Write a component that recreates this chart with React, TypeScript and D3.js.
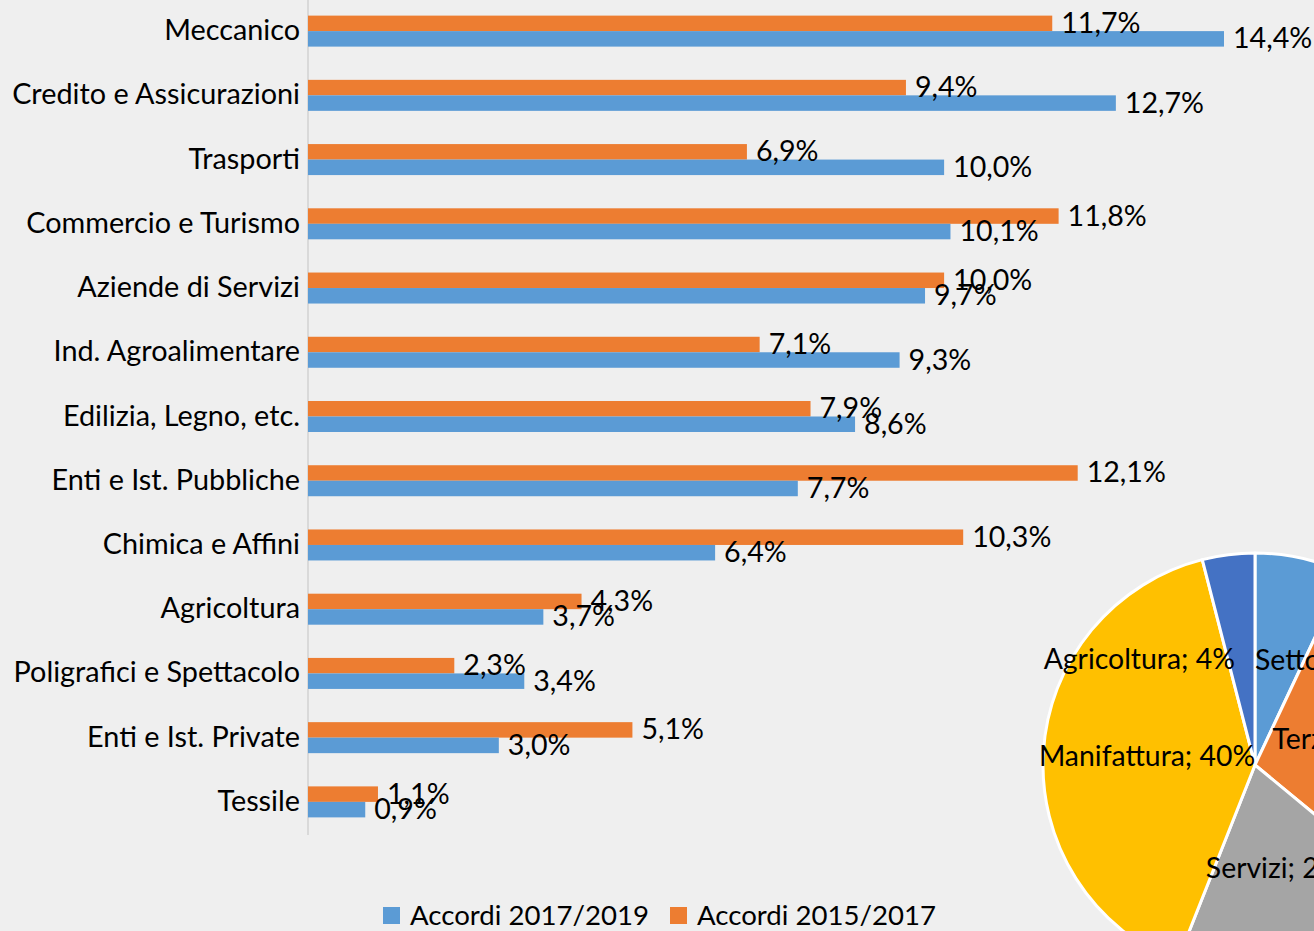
import * as d3 from "d3";
import React, { useEffect, useRef } from "react";

const categories = [
  "Meccanico",
  "Credito e Assicurazioni",
  "Trasporti",
  "Commercio e Turismo",
  "Aziende di Servizi",
  "Ind. Agroalimentare",
  "Edilizia, Legno, etc.",
  "Enti e Ist. Pubbliche",
  "Chimica e Affini",
  "Agricoltura",
  "Poligrafici e Spettacolo",
  "Enti e Ist. Private",
  "Tessile",
];
const accordi1719 = [14.4, 12.7, 10.0, 10.1, 9.7, 9.3, 8.6, 7.7, 6.4, 3.7, 3.4, 3.0, 0.9];
const accordi1517 = [11.7, 9.4, 6.9, 11.8, 10.0, 7.1, 7.9, 12.1, 10.3, 4.3, 2.3, 5.1, 1.1];
const seriesNames = ["Accordi 2017/2019", "Accordi 2015/2017"];

const pieLabels = ["Settore pubblico", "Terziario", "Servizi", "Manifattura", "Agricoltura"];
const pieValues = [7, 29, 20, 40, 4];

const W = 1314;
const H = 931;
const BLUE = "#5b9bd5";
const ORANGE = "#ed7d31";
const pieColors = ["#5b9bd5", "#ed7d31", "#a5a5a5", "#ffc000", "#4472c4"];
const FONT = "Lato, 'Open Sans', sans-serif";

const fmt = (v: number) => v.toFixed(1).replace(".", ",") + "%";

function App() {
  const ref = useRef<SVGSVGElement>(null);

  useEffect(() => {
    const svg = d3.select(ref.current);
    svg.selectAll("*").remove();

    svg.append("rect").attr("width", W).attr("height", H).attr("fill", "#efefef");

    const x0 = 308;
    const x = d3.scaleLinear().domain([0, 14.4]).range([x0, 1224]);
    const y = d3.scaleBand().domain(categories).range([-1, 834]).padding(0);
    const inner = d3.scaleBand().domain(["o", "b"]).range([0, 31]);

    // axis line
    svg
      .append("line")
      .attr("x1", x0)
      .attr("x2", x0)
      .attr("y1", 0)
      .attr("y2", 835)
      .attr("stroke", "#d9d9d9")
      .attr("stroke-width", 2);

    const g = svg.append("g").style("font-family", FONT);

    categories.forEach((c, i) => {
      const cy = y(c)! + y.bandwidth() / 2;
      const top = cy - 15.5;

      g.append("text")
        .attr("x", 300)
        .attr("y", cy - 2)
        .attr("text-anchor", "end")
        .attr("dominant-baseline", "central")
        .attr("font-size", 28.8)
        .attr("fill", "#000")
        .text(c);

      const rows = [
        { key: "o", v: accordi1517[i], color: ORANGE },
        { key: "b", v: accordi1719[i], color: BLUE },
      ];
      rows.forEach((r) => {
        const by = top + inner(r.key)!;
        g.append("rect")
          .attr("x", x(0))
          .attr("y", by)
          .attr("width", x(r.v) - x(0))
          .attr("height", inner.bandwidth())
          .attr("fill", r.color);
      });
      rows.forEach((r) => {
        const by = top + inner(r.key)!;
        g.append("text")
          .attr("x", x(r.v) + 9)
          .attr("y", by + inner.bandwidth() / 2 - 1.5)
          .attr("dominant-baseline", "central")
          .attr("font-size", 28.6)
          .attr("fill", "#000")
          .text(fmt(r.v));
      });
    });

    // legend
    const legend = svg.append("g").style("font-family", FONT);
    const legendItems = [
      { name: seriesNames[0], color: BLUE, x: 383 },
      { name: seriesNames[1], color: ORANGE, x: 670 },
    ];
    legendItems.forEach((l) => {
      legend
        .append("rect")
        .attr("x", l.x)
        .attr("y", 907)
        .attr("width", 17)
        .attr("height", 17)
        .attr("fill", l.color);
      legend
        .append("text")
        .attr("x", l.x + 27)
        .attr("y", 914)
        .attr("dominant-baseline", "central")
        .attr("font-size", 27.6)
        .attr("fill", "#000")
        .text(l.name);
    });

    // pie
    const cx = 1255;
    const cy = 765;
    const R = 212;
    const pie = d3.pie<number>().sort(null)(pieValues);
    const arc = d3.arc<d3.PieArcDatum<number>>().innerRadius(0).outerRadius(R);
    const pg = svg.append("g").attr("transform", `translate(${cx},${cy})`);
    pg.selectAll("path")
      .data(pie)
      .join("path")
      .attr("d", arc)
      .attr("fill", (d, i) => pieColors[i])
      .attr("stroke", "#fff")
      .attr("stroke-width", 3)
      .attr("stroke-linejoin", "round");

    const labelArc = d3.arc<d3.PieArcDatum<number>>().innerRadius(R * 0.51).outerRadius(R * 0.51);
    pie.forEach((d, i) => {
      const [lx, ly] = labelArc.centroid(d);
      const small = d.value < 10;
      const t = pg
        .append("text")
        .attr("dominant-baseline", "central")
        .attr("font-size", 28.4)
        .style("font-family", FONT)
        .attr("fill", "#000")
        .text(`${pieLabels[i]}; ${d.value}%`);
      if (small) {
        const left = lx < 0;
        t.attr("x", left ? -20 : 0)
          .attr("y", ly)
          .attr("text-anchor", left ? "end" : "start");
      } else {
        t.attr("x", lx).attr("y", ly - 3).attr("text-anchor", "middle");
      }
    });
  }, []);

  return (
    <div style={{ position: "fixed", left: 0, top: 0, width: W, height: H, overflow: "hidden" }}>
      <svg ref={ref} width={W} height={H} style={{ display: "block" }}></svg>
    </div>
  );
}

export default App;
